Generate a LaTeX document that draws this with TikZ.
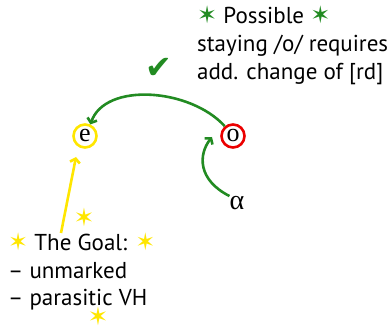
\documentclass[tikz,border=0pt]{standalone}
\usepackage{fontspec}
\setmainfont{PT Sans}
\newfontfamily\symf{DejaVu Sans}
\newfontfamily\serf{Liberation Serif}
\usetikzlibrary{arrows.meta}
\definecolor{gg}{RGB}{34,139,34}
\definecolor{yy}{RGB}{255,230,0}
\definecolor{rr}{RGB}{235,0,0}
\tikzset{
  vowel/.style={circle, line width=2.6pt, minimum size=23pt, inner sep=0pt,
    font=\serf\fontsize{26}{26}\selectfont},
  garrow/.style={draw=gg, line width=2.6pt, -{Straight Barb[length=4pt,width=10pt]}},
  yarrow/.style={draw=yy, line width=2.6pt, -{Straight Barb[length=4pt,width=10pt]}},
  ystar/.style={text=yy, font=\symf\fontsize{25}{25}\selectfont, inner sep=0pt},
  txt/.style={anchor=base west, align=left, font=\fontsize{23}{28}\selectfont, inner sep=0pt},
}
\newcommand{\gs}{{\color{gg}\symf\fontsize{24}{28}\selectfont ✶}}
\newcommand{\ys}{{\color{yy}\symf\fontsize{24}{28}\selectfont ✶}}
\begin{document}
\begin{tikzpicture}[x=1pt,y=-1pt]
\useasboundingbox (0,0) rectangle (392,329);
\node[vowel, draw=yy] (e) at (85,136) {e};
\node[vowel, draw=rr] (o) at (233,136) {o};
\node[font=\serf\fontsize{28}{28}\selectfont, inner sep=0pt] (a) at (237,203) {α};
\coordinate (oin) at (212,137);
\coordinate (ystart) at (61,233);
\coordinate (ytip) at (76,157);
\node[txt] (poss) at (197,80)
  {\gs{} Possible \gs\\staying /o/ requires\\add. change of [rd]};
\node[text=gg, font=\symf\fontsize{32}{32}\selectfont, inner sep=0pt] (chk) at (159,68) {✔};
\node[txt] (goal) at (8,306)
  {\ys{} The Goal: \ys\\– unmarked\\– parasitic VH};
\node[ystar] (s1) at (84,217) {✶};
\node[ystar] (s2) at (98,316) {✶};
\draw[garrow] (o.130) .. controls (190,88) and (105,82) .. (e.65);
\draw[garrow] (a.north west) .. controls (198,180) and (198,155) .. (oin);
\draw[yarrow] (ystart) -- (ytip);
\end{tikzpicture}
\end{document}
